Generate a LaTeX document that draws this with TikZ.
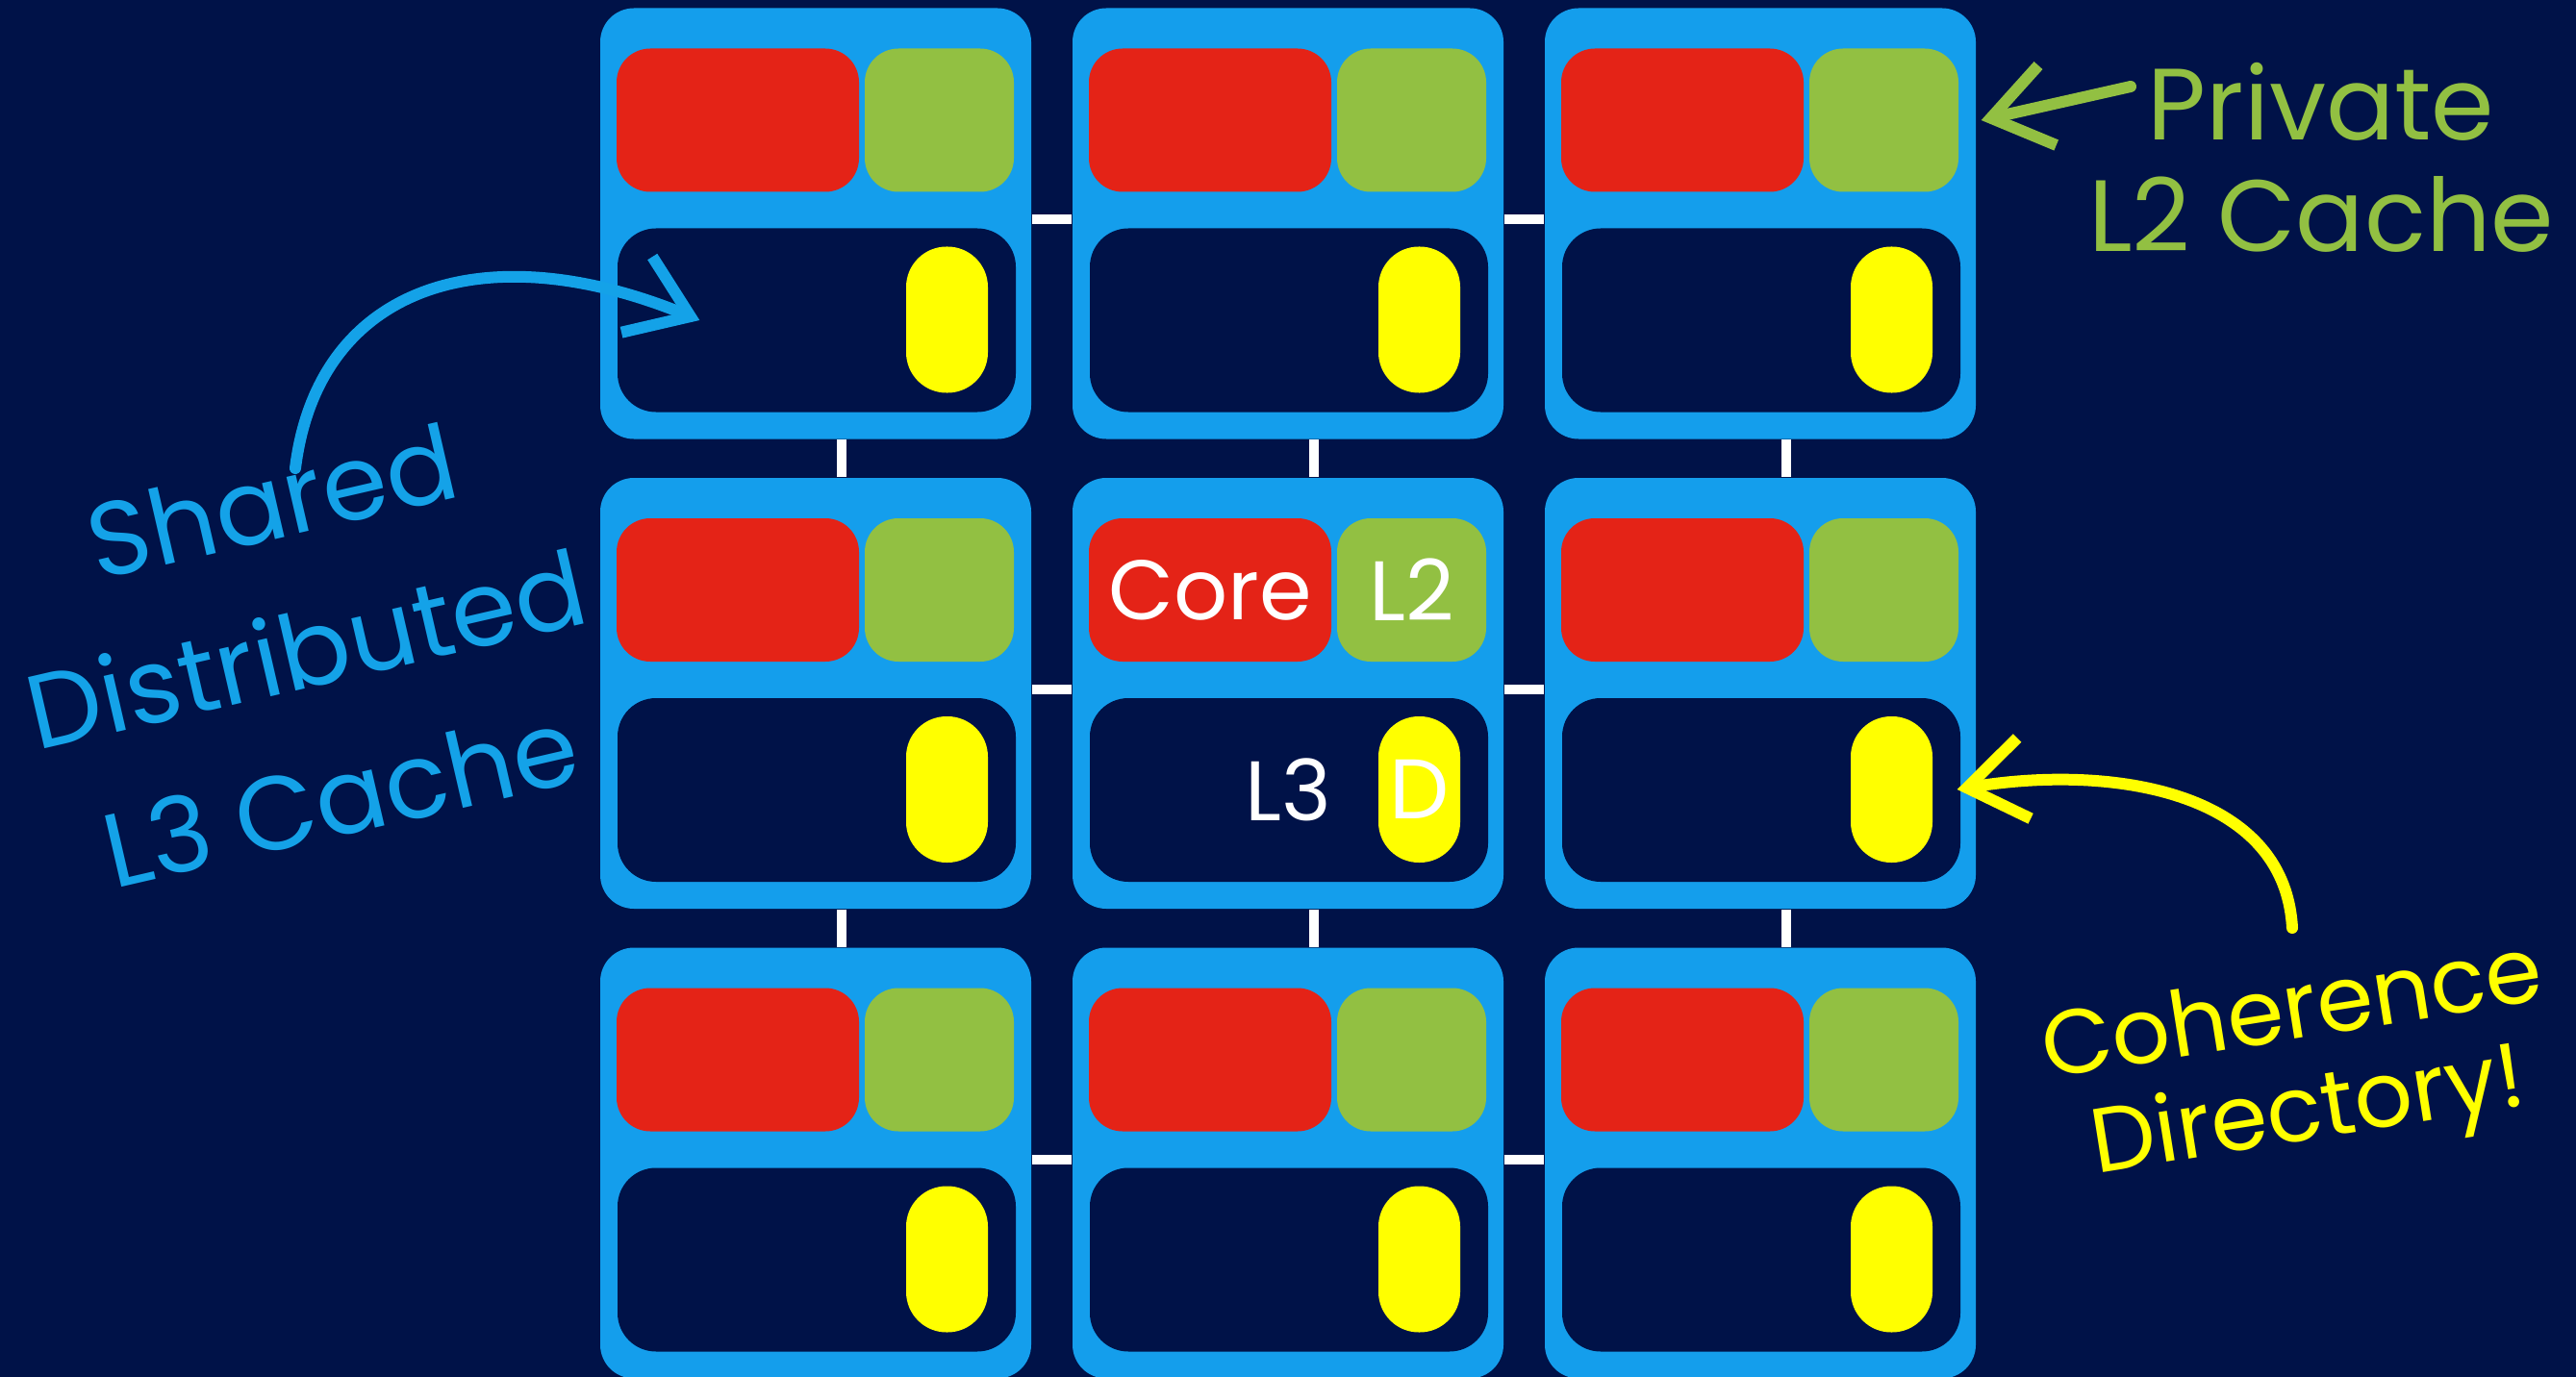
\documentclass[tikz,border=0pt]{standalone}
\usepackage{fontspec}
\setmainfont{Poppins}
\usepackage{tikz}
\usetikzlibrary{arrows.meta,positioning}
\usepackage{xcolor}
\definecolor{navy}{RGB}{0,18,72}
\definecolor{tileblue}{RGB}{20,158,236}
\definecolor{corered}{RGB}{228,35,23}
\definecolor{ltgreen}{RGB}{146,192,66}
\definecolor{diryellow}{RGB}{255,255,0}
\definecolor{chalkblue}{RGB}{20,162,232}
\newcommand{\tilefont}{\fontsize{25}{30}\selectfont}
\newcommand{\chalkfont}[2]{\fontsize{#1}{#2}\selectfont}

\begin{document}
\begin{tikzpicture}[
    >=Stealth,
    tile/.style={
      rectangle, fill=tileblue, minimum width=4.48cm, minimum height=4.48cm,
      rounded corners=0.35cm, inner sep=0pt
    },
    part/.style={rectangle, inner sep=0pt, text=white, font=\tilefont},
    core/.style={part, fill=corered, minimum width=2.52cm,
      minimum height=1.49cm, rounded corners=0.35cm},
    ltwo/.style={part, fill=ltgreen, minimum width=1.55cm,
      minimum height=1.49cm, rounded corners=0.35cm},
    lthree/.style={part, fill=navy, minimum width=4.14cm,
      minimum height=1.91cm, rounded corners=0.4cm},
    dirpill/.style={part, fill=diryellow, minimum width=0.85cm,
      minimum height=1.52cm, rounded corners=0.42cm},
    lbl/.style={text=white, font=\tilefont, inner sep=0pt},
    link/.style={draw=white, line width=0.1cm},
    chalk/.style={line width=0.12cm, line cap=round, line join=round,
      -{Straight Barb[length=0.6cm, width=0.85cm]}},
    note/.style={align=center}
  ]
  \fill[navy, use as bounding box] (0,0) rectangle (26.78,-14.32);

  % 3x3 grid of tiles
  \foreach \r in {1,2,3} {
    \foreach \c in {1,2,3} {
      \node[tile] (t\r\c) at ({8.48+(\c-1)*4.91}, {-2.325-(\r-1)*4.885}) {};
      \node[core] (core\r\c) at ([shift={(-0.81,1.075)}]t\r\c.center) {};
      \node[ltwo] (ltwo\r\c) at ([shift={(1.285,1.075)}]t\r\c.center) {};
      \node[lthree] (lthree\r\c) at ([shift={(0.01,-1.005)}]t\r\c.center) {};
      \node[dirpill] (dir\r\c) at ([shift={(1.365,-1.0)}]t\r\c.center) {};
    }
  }

  % mesh links
  \foreach \r in {1,2,3} {
    \draw[link] ([yshift=0.04cm]t\r1.east) -- ([yshift=0.04cm]t\r2.west);
    \draw[link] ([yshift=0.04cm]t\r2.east) -- ([yshift=0.04cm]t\r3.west);
  }
  \foreach \c in {1,2,3} {
    \draw[link] ([xshift=0.27cm]t1\c.south) -- ([xshift=0.27cm]t2\c.north);
    \draw[link] ([xshift=0.27cm]t2\c.south) -- ([xshift=0.27cm]t3\c.north);
  }

  % labels of the middle tile
  \node[lbl] at (core22) {Core};
  \node[lbl] at (ltwo22) {L2};
  \node[lbl] at (t22 |- lthree22) {L3};
  \node[lbl] at (dir22) {D};

  % notes
  \node[note, text=ltgreen, font=\chalkfont{30}{33}] (private)
    at (24.13,-1.64) {Private\\L2 Cache};
  \node[note, text=chalkblue, font=\chalkfont{31}{45}, rotate=13] (shared)
    at (3.18,-6.75) {Shared\\Distributed\\L3 Cache};
  \node[note, text=diryellow, font=\chalkfont{27}{30}, rotate=9] (coherence)
    at (23.92,-11.1) {Coherence\\Directory!};

  \coordinate (private-tail) at (22.15,-0.9);
  \coordinate (shared-tail) at (3.07,-4.87);
  \coordinate (coherence-tail) at (23.83,-9.65);

  \draw[chalk, ltgreen] (private-tail) -- ([xshift=0.23cm]ltwo13.east);
  \draw[chalk, chalkblue] (shared-tail) .. controls (3.3,-3.0) and (5.0,-2.4)
    .. ([xshift=0.86cm]lthree11.west);
  \draw[chalk, diryellow] (coherence-tail) .. controls (23.75,-8.2) and (21.9,-7.95)
    .. ([xshift=0.25cm]dir23.east);
\end{tikzpicture}
\end{document}
